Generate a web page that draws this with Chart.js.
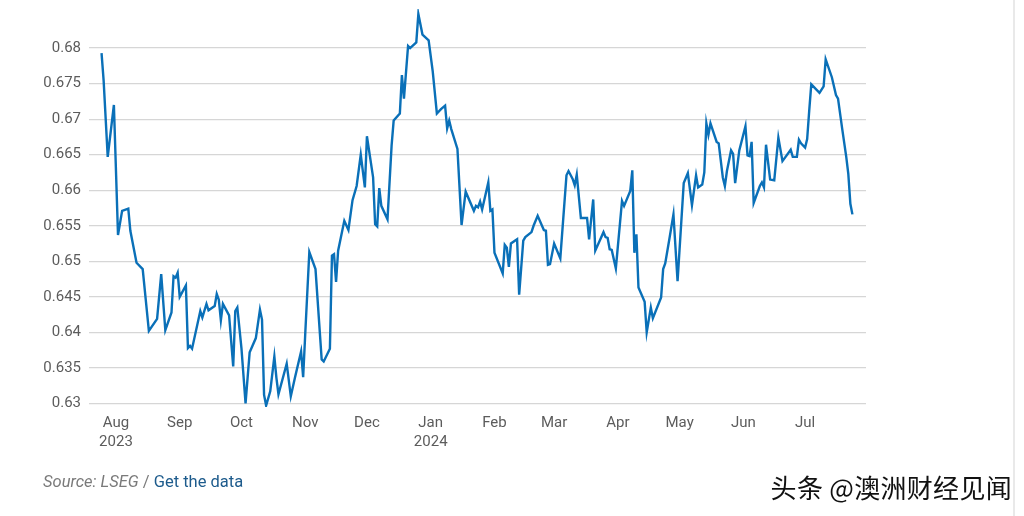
<!DOCTYPE html>
<html>
<head>
<meta charset="utf-8">
<script src="https://cdn.jsdelivr.net/npm/chart.js@4.4.1/dist/chart.umd.min.js"></script>
<style>
  body { margin: 0; background: #fff; }
  #wrap { position: relative; width: 1024px; height: 516px; overflow: hidden; }
  #edge { position: absolute; left: 1013px; top: 0; width: 2px; height: 516px; background: #e9e9e9; }
  #source { position: absolute; left: 43px; top: 472px; font: 16.5px "Roboto", sans-serif; color: #7a7a7a; }
  #source i { font-style: italic; }
  #source a { color: #1d5b8c; text-decoration: none; }
  #mark { position: absolute; right: 12px; top: 468px; font: 26px "Noto Sans CJK SC", sans-serif; color: #111; letter-spacing: 0.3px;
          text-shadow: 0 0 2px #fff, 0 0 2px #fff; }
</style>
</head>
<body>
<div id="wrap">
  <canvas id="grafico" width="1024" height="516"></canvas>
  <div id="edge"></div>
  <div id="source"><i>Source: LSEG</i> / <a>Get the data</a></div>
  <div id="mark">头条 @澳洲财经见闻</div>
</div>
<script>
// days counted from 1 Aug 2023, AUD/USD rate
const days = [
  -7, -6, -4, -1, 1, 3, 6, 7, 10, 13,
  16, 20, 22, 24, 27, 28, 29, 30, 31, 34,
  35, 36, 37, 41, 42, 44, 45, 48, 49, 50,
  51, 52, 55, 57, 58, 59, 61, 63, 65, 68,
  70, 71, 72, 73, 75, 77, 78, 79, 83, 85,
  87, 90, 91, 92, 94, 97, 100, 101, 104, 105,
  106, 107, 108, 111, 113, 115, 117, 119, 121, 122,
  125, 126, 127, 128, 129, 132, 134, 135, 138, 139,
  140, 142, 143, 146, 147, 149, 152, 154, 156, 158,
  160, 161, 162, 163, 166, 168, 170, 174, 175, 176,
  177, 178, 181, 182, 183, 184, 188, 189, 190, 191,
  192, 195, 196, 198, 199, 202, 203, 205, 208, 209,
  210, 211, 213, 216, 219, 220, 222, 223, 224, 226,
  229, 230, 232, 233, 237, 238, 239, 240, 241, 243,
  246, 247, 250, 251, 252, 253, 254, 257, 258, 260,
  261, 265, 266, 267, 269, 271, 273, 276, 278, 280,
  282, 283, 285, 286, 287, 288, 289, 292, 293, 295,
  296, 297, 299, 300, 301, 303, 306, 307, 308, 309,
  310, 313, 314, 315, 316, 318, 320, 322, 324, 328,
  329, 331, 332, 333, 335, 336, 337, 338, 342, 344,
  345, 348, 350, 351, 353, 355, 356, 357, 358
];
const rates = [
  0.6793, 0.6755, 0.6647, 0.6720, 0.6537, 0.6571, 0.6574, 0.6543, 0.6498, 0.6489,
  0.6402, 0.6419, 0.6482, 0.6403, 0.6428, 0.6479, 0.6477, 0.6484, 0.6450, 0.6466,
  0.6378, 0.6381, 0.6377, 0.6430, 0.6421, 0.6440, 0.6431, 0.6437, 0.6454, 0.6446,
  0.6417, 0.6440, 0.6424, 0.6352, 0.6430, 0.6435, 0.6378, 0.6300, 0.6372, 0.6392,
  0.6432, 0.6418, 0.6312, 0.6297, 0.6317, 0.6366, 0.6336, 0.6313, 0.6356, 0.6310,
  0.6336, 0.6373, 0.6337, 0.6397, 0.6513, 0.6489, 0.6362, 0.6359, 0.6377, 0.6508,
  0.6510, 0.6471, 0.6515, 0.6557, 0.6544, 0.6586, 0.6606, 0.6650, 0.6604, 0.6676,
  0.6618, 0.6552, 0.6549, 0.6603, 0.6578, 0.6559, 0.6663, 0.6698, 0.6708, 0.6762,
  0.6729, 0.6803, 0.6800, 0.6808, 0.6848, 0.6819, 0.6811, 0.6767, 0.6708, 0.6714,
  0.6719, 0.6687, 0.6698, 0.6686, 0.6658, 0.6551, 0.6598, 0.6571, 0.6578, 0.6576,
  0.6584, 0.6573, 0.6611, 0.6571, 0.6573, 0.6512, 0.6483, 0.6523, 0.6519, 0.6492,
  0.6525, 0.6531, 0.6453, 0.6529, 0.6534, 0.6541, 0.6550, 0.6564, 0.6544, 0.6543,
  0.6495, 0.6496, 0.6525, 0.6504, 0.6621, 0.6627, 0.6616, 0.6607, 0.6622, 0.6561,
  0.6561, 0.6531, 0.6587, 0.6515, 0.6541, 0.6534, 0.6533, 0.6517, 0.6516, 0.6490,
  0.6585, 0.6578, 0.6599, 0.6628, 0.6512, 0.6538, 0.6463, 0.6443, 0.6400, 0.6435,
  0.6420, 0.6449, 0.6489, 0.6497, 0.6531, 0.6566, 0.6472, 0.6610, 0.6624, 0.6579,
  0.6621, 0.6604, 0.6608, 0.6625, 0.6694, 0.6678, 0.6694, 0.6668, 0.6666, 0.6618,
  0.6606, 0.6627, 0.6656, 0.6651, 0.6610, 0.6656, 0.6690, 0.6649, 0.6648, 0.6668,
  0.6582, 0.6606, 0.6611, 0.6604, 0.6664, 0.6615, 0.6614, 0.6674, 0.6641, 0.6657,
  0.6647, 0.6647, 0.6671, 0.6666, 0.6660, 0.6672, 0.6712, 0.6749, 0.6737, 0.6746,
  0.6784, 0.6759, 0.6734, 0.6729, 0.6687, 0.6647, 0.6623, 0.6581, 0.6566
];
const monthTicks = [0, 31, 61, 92, 122, 153, 184, 213, 244, 274, 305, 335];
const monthLabels = [["Aug", "2023"], "Sep", "Oct", "Nov", "Dec", ["Jan", "2024"], "Feb", "Mar", "Apr", "May", "Jun", "Jul"];
const yTicks = [0.63, 0.635, 0.64, 0.645, 0.65, 0.655, 0.66, 0.665, 0.67, 0.675, 0.68];
const yTickLabels = ["0.63", "0.635", "0.64", "0.645", "0.65", "0.655", "0.66", "0.665", "0.67", "0.675", "0.68"];

const ctx = document.getElementById("grafico");
const tickFont = { family: "Roboto", size: 15, lineHeight: 1.25 };

new Chart(ctx, {
  type: "line",
  data: {
    datasets: [{
      data: days.map((d, i) => ({ x: d, y: rates[i] })),
      borderColor: "#0a70b8",
      borderWidth: 2.4,
      pointRadius: 0,
      tension: 0
    }]
  },
  options: {
    responsive: false,
    animation: false,
    layout: { padding: { left: 0, right: 158, top: 9, bottom: 58 } },
    plugins: { legend: { display: false }, tooltip: { enabled: false } },
    scales: {
      x: {
        type: "linear",
        min: -13.1,
        max: 364.6,
        afterBuildTicks: axis => { axis.ticks = monthTicks.map(v => ({ value: v })); },
        afterFit: axis => {
          axis.height = 51;
          axis.paddingLeft = 0;
          axis.paddingRight = 0;
        },
        ticks: {
          autoSkip: false,
          maxRotation: 0,
          padding: 7,
          color: "#5c5c5c",
          font: tickFont,
          callback: value => monthLabels[monthTicks.indexOf(value)]
        },
        grid: { display: false, drawTicks: false },
        border: { display: false }
      },
      y: {
        min: 0.6295,
        max: 0.6855,
        afterBuildTicks: axis => { axis.ticks = yTicks.map(v => ({ value: v })); },
        afterFit: axis => {
          axis.width = 89;
          axis.paddingTop = 0;
          axis.paddingBottom = 0;
        },
        ticks: {
          padding: 8,
          color: "#5c5c5c",
          font: tickFont,
          callback: value => yTickLabels[yTicks.indexOf(value)]
        },
        grid: { color: "#d6d6d6", lineWidth: 1.3, drawTicks: false },
        border: { display: false }
      }
    }
  }
});
</script>
</body>
</html>
